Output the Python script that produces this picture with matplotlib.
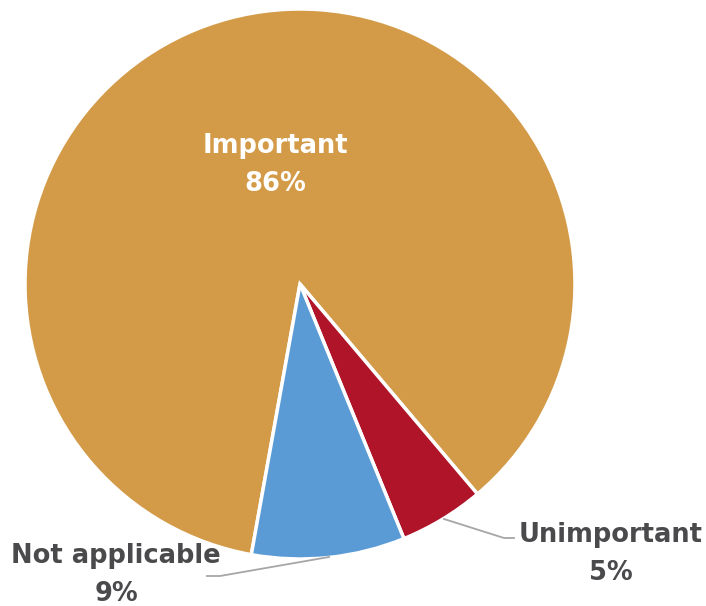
import matplotlib.pyplot as plt

categories = ["Important", "Unimportant", "Not applicable"]
values = [86, 5, 9]
colors = ["#D39A47", "#AF1428", "#5B9BD5"]

W, H = 706, 606
fig = plt.figure(figsize=(W / 100, H / 100), dpi=100)
ax = fig.add_axes([0, 0, 1, 1])

cx, cy, r = 300, H - 284, 275
wedges, _ = ax.pie(values, colors=colors, startangle=259.8, counterclock=False,
                   center=(cx, cy), radius=r, frame=True,
                   wedgeprops=dict(edgecolor="white", linewidth=2.5))
ax.set_xlim(0, W)
ax.set_ylim(0, H)
ax.axis("off")

font = dict(family=["DejaVu Sans"], fontweight="bold", fontsize=18.5)
gray = "#4A4A4C"

def lab(i):
    return f"{categories[i]}\n{values[i]}%"

ax.text(275, H - 165, lab(0), color="white", ha="center", va="center",
        linespacing=1.6, **font)
ax.text(611, H - 554, lab(1), color=gray, ha="center", va="center",
        linespacing=1.6, **font)
ax.text(116, H - 575, lab(2), color=gray, ha="center", va="center",
        linespacing=1.6, **font)

line = dict(color="#A6A6A6", linewidth=1.3)
ax.plot([444, 504, 514], [H - 519, H - 538, H - 538], **line)
ax.plot([329, 220, 207], [H - 557, H - 576, H - 576], **line)

fig.savefig("out.png", dpi=100)
